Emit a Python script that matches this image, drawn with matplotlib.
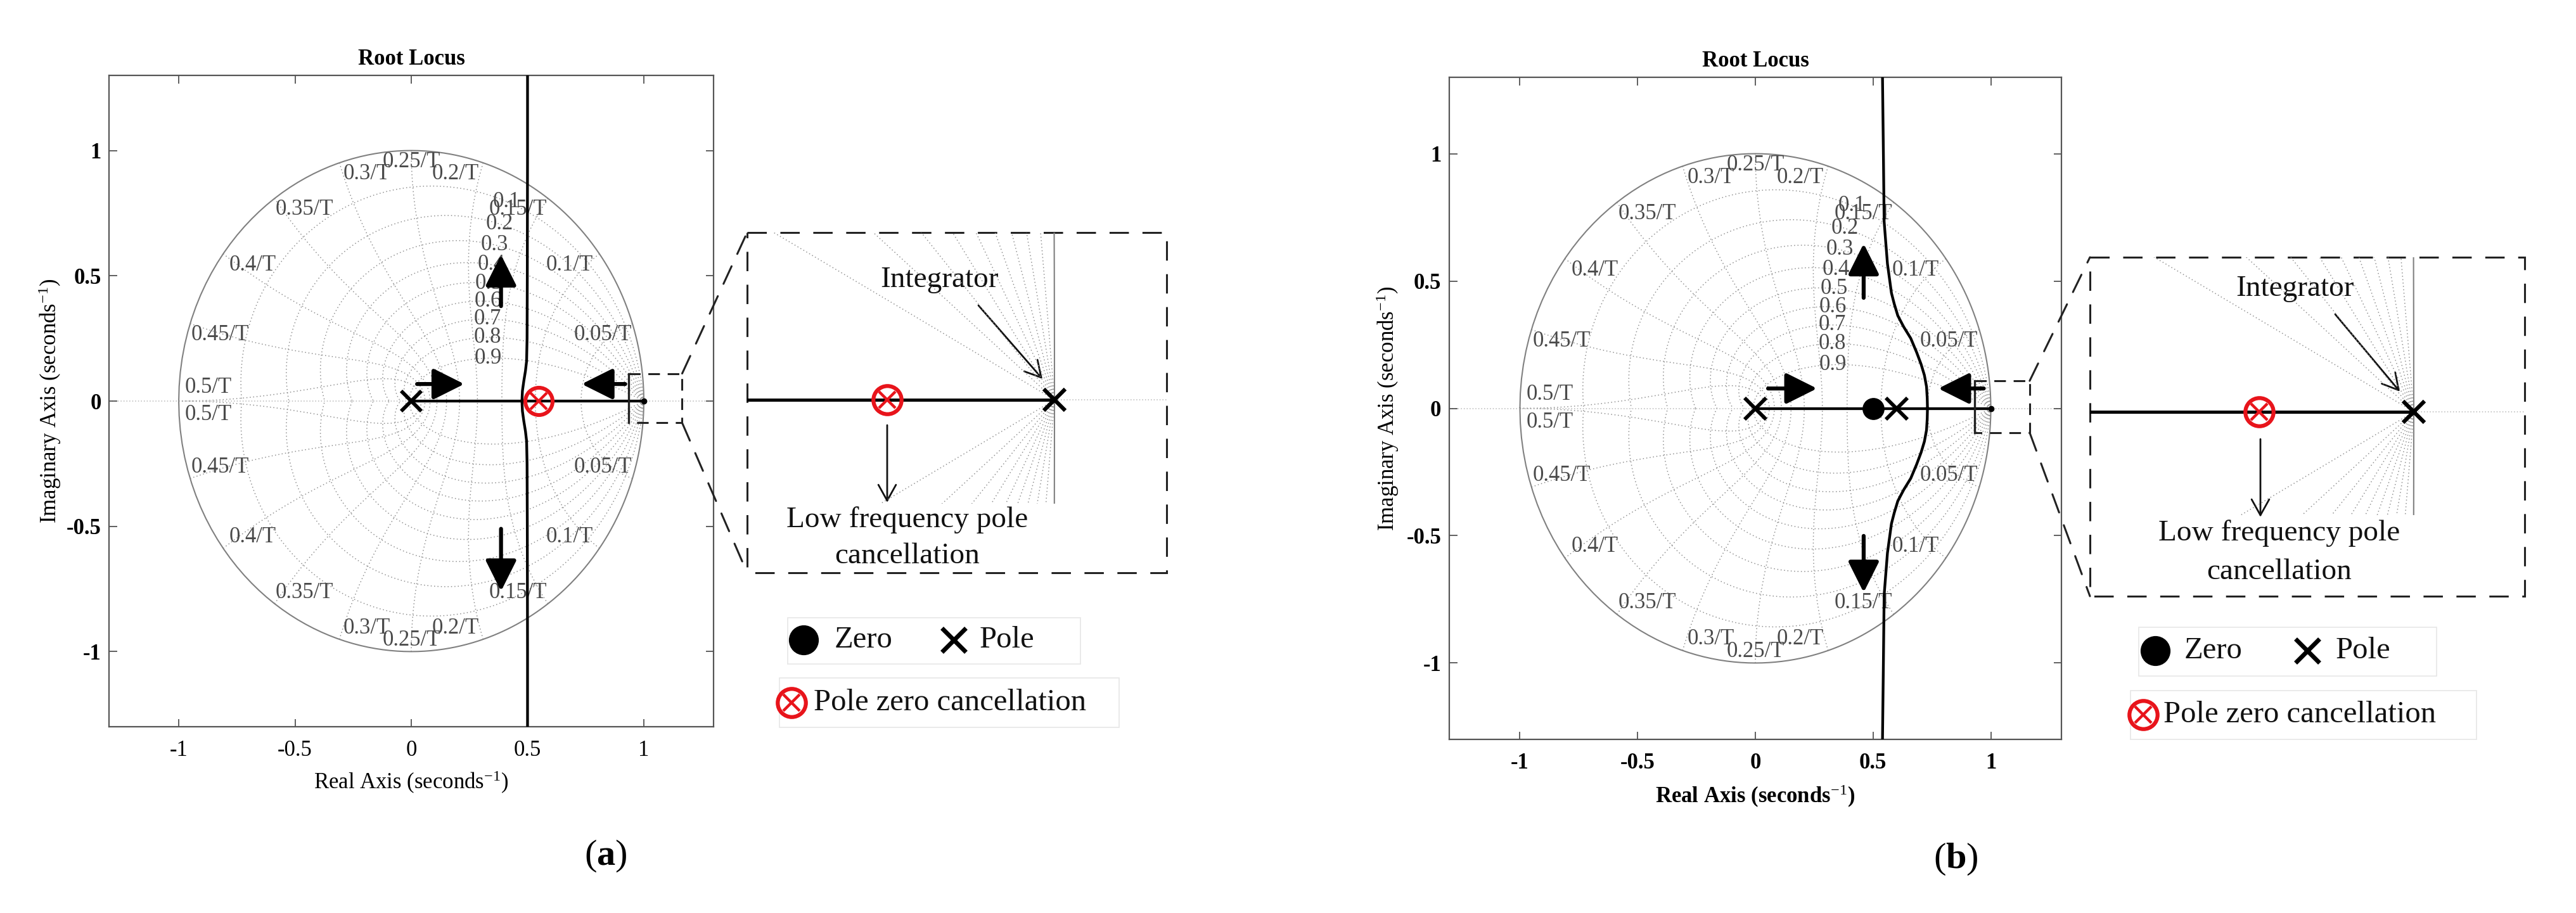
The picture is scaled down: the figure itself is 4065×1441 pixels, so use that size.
import numpy as np
import matplotlib
matplotlib.use("Agg")
import matplotlib.pyplot as plt
from matplotlib.patches import Rectangle, ConnectionPatch

plt.rcParams["font.family"] = ["Liberation Serif", "DejaVu Serif"]
plt.rcParams["mathtext.fontset"] = "custom"
plt.rcParams["mathtext.rm"] = "Liberation Serif"
plt.rcParams["mathtext.it"] = "Liberation Serif:italic"
plt.rcParams["mathtext.bf"] = "Liberation Serif:bold"

W, H = 4065, 1441

# shared axis setup
ticks = [-1, -0.5, 0, 0.5, 1]
tick_labels = ["-1", "-0.5", "0", "0.5", "1"]
limits = [-1.3, 1.3]

# z-plane grid: damping ratios and natural frequency labels
zetas = [0.1, 0.2, 0.3, 0.4, 0.5, 0.6, 0.7, 0.8, 0.9]
wn_labels = ["0.05/T", "0.1/T", "0.15/T", "0.2/T", "0.25/T",
             "0.3/T", "0.35/T", "0.4/T", "0.45/T", "0.5/T"]

# panel (a) root locus
poles_a = [0.0]
cancel_a = [0.548]
integ_a = [1.0]
real_seg_a = [0.0, 1.0]
branch_a_y = [0.0, 0.04, 0.08, 0.12, 0.16, 0.25, 0.5, 1.0, 1.3]
branch_a_x = [0.476, 0.478, 0.484, 0.491, 0.496, 0.498, 0.499, 0.5, 0.5]
zoom_rect_a = [0.935, 1.165, -0.087, 0.11]
arrows_a = [((0.025, 0.068), (0.228, 0.068)),
            ((0.92, 0.068), (0.733, 0.068)),
            ((0.386, 0.379), (0.386, 0.584)),
            ((0.386, -0.51), (0.386, -0.759))]

# panel (b) root locus
poles_b = [0.0, 0.6]
zeros_b = [0.5]
integ_b = [1.0]
real_seg_b = [0.0, 1.0]
branch_b_y = [0.0, 0.04, 0.085, 0.13, 0.173, 0.22, 0.275, 0.32, 0.364,
              0.41, 0.453, 0.568, 0.733, 0.987, 1.3]
branch_b_x = [0.731, 0.73, 0.727, 0.718, 0.704, 0.685, 0.66, 0.63, 0.605,
              0.59, 0.578, 0.561, 0.547, 0.544, 0.54]
zoom_rect_b = [0.93, 1.165, -0.095, 0.108]
arrows_b = [((0.054, 0.078), (0.262, 0.078)),
            ((0.97, 0.078), (0.777, 0.078)),
            ((0.46, 0.434), (0.46, 0.647)),
            ((0.46, -0.501), (0.46, -0.723))]

# zoomed view near z = 1
inset_pole = [1.0]
inset_cancel_a = [0.99456]
inset_cancel_b = [0.99496]

RED = "#e8141b"
fig = plt.figure(figsize=(W / 100, H / 100), dpi=100)


def px_axes(x0, y0, x1, y1, **kw):
    return fig.add_axes([x0 / W, 1 - y1 / H, (x1 - x0) / W, (y1 - y0) / H], **kw)


def zgrid(ax, labels=True):
    gkw = dict(color="#8f8f8f", lw=1.1, ls=(0, (1, 2.5)), zorder=1)
    phi = np.concatenate([[0.0], np.geomspace(1e-6, np.pi, 800)])
    for z in zetas:
        r = np.exp(-z / np.sqrt(1 - z * z) * phi)
        ax.plot(r * np.cos(phi), r * np.sin(phi), **gkw)
        ax.plot(r * np.cos(phi), -r * np.sin(phi), **gkw)
    zz = np.linspace(0, 1, 400)
    for k in range(1, 11):
        wn = k * np.pi / 10
        mag = np.exp(-wn * zz)
        ang = wn * np.sqrt(1 - zz ** 2)
        ax.plot(mag * np.cos(ang), mag * np.sin(ang), **gkw)
        ax.plot(mag * np.cos(ang), -mag * np.sin(ang), **gkw)
    th = np.concatenate([-phi[::-1], phi])
    ax.plot(np.cos(th), np.sin(th), color="#808080", lw=1.5, zorder=1)
    ax.axhline(0, color="#b5b5b5", lw=1.1, ls=(0, (1, 2)), zorder=1)
    if not labels:
        return
    tkw = dict(fontsize=25, color="#4a4a4a", ha="center", va="center", zorder=2)
    for k, lab in enumerate(wn_labels, start=1):
        t = k * np.pi / 10
        x = np.cos(t) - 0.128 * np.clip(3 * np.cos(t), -1, 1)
        y = max(np.sin(t) - 0.045, 0.055)
        ax.text(x, y, lab, **tkw)
        ax.text(x, -y, lab, **tkw)
    for z in zetas:
        p = np.exp(1.1 * (-z + 1j * np.sqrt(1 - z * z)))
        ax.text(p.real, p.imag, f"{z:g}", **tkw)


def otimes(ax, x, y, ms, **kw):
    ax.plot(x, y, "o", ms=ms, mfc="none", mec=RED, mew=ms * 0.14, zorder=6, **kw)
    ax.plot(x, y, "x", ms=ms * 0.6, mec=RED, mew=ms * 0.1, zorder=6, **kw)


def big_arrow(ax, p0, p1):
    ax.annotate("", xy=p1, xytext=p0, zorder=7,
                arrowprops=dict(arrowstyle="-|>,head_length=0.5,head_width=0.25",
                                mutation_scale=60, lw=4.5, color="k",
                                shrinkA=0, shrinkB=0))


def root_axes(box, bold_x, bold_xlabel, ylab_x, xlab_y):
    x0, y0, x1, y1 = box
    ax = px_axes(x0, y0, x1, y1)
    zgrid(ax)
    ax.set_xlim(limits)
    ax.set_ylim(limits)
    ax.set_xticks(ticks)
    ax.set_xticklabels(tick_labels)
    ax.set_yticks(ticks)
    ax.set_yticklabels(tick_labels)
    ax.tick_params(direction="in", length=9, width=1.2, top=True, right=True,
                   labelsize=25, color="#444444")
    ax.tick_params(axis="x", pad=15)
    ax.tick_params(axis="y", pad=9)
    for lbl in ax.get_yticklabels():
        lbl.set_fontweight("bold")
    for lbl in ax.get_xticklabels():
        lbl.set_fontweight("bold" if bold_x else "normal")
    for s in ax.spines.values():
        s.set_color("#555555")
        s.set_linewidth(1.6)
    ax.set_title("Root Locus", fontsize=25, fontweight="bold", pad=12)
    ax.set_xlabel(r"Real Axis (seconds$^{-1}$)", fontsize=25,
                  fontweight="bold" if bold_xlabel else "normal")
    ax.set_ylabel(r"Imaginary Axis (seconds$^{-1}$)", fontsize=25)
    ax.yaxis.set_label_coords(ylab_x, 0.5)
    ax.xaxis.set_label_coords(0.5, xlab_y)
    return ax


def zoom_rect(ax, r):
    x0, x1, y0, y1 = r
    dkw = dict(color="#222222", lw=2.2, ls=(0, (6, 4)), zorder=6)
    ax.plot([x0, x0], [y0, y1], color="#222222", lw=2.4, zorder=6)
    ax.plot([x0, x1, x1, x0], [y1, y1, y0, y0], **dkw)


# overlay in figure pixel coordinates for boxes, notes and legends
ov = fig.add_axes([0, 0, 1, 1], zorder=10)
ov.set_xlim(0, W)
ov.set_ylim(H, 0)
ov.axis("off")
ov.patch.set_alpha(0)

LW = 3.1

# ---------------- panel (a) ----------------
ax_a = root_axes((172, 119, 1126, 1147), False, False, -0.0765, -0.066)
ax_a.plot(real_seg_a, [0, 0], color="k", lw=LW, zorder=4)
ax_a.plot(branch_a_x, branch_a_y, color="k", lw=LW, zorder=4)
ax_a.plot(branch_a_x, [-v for v in branch_a_y], color="k", lw=LW, zorder=4)
ax_a.plot(poles_a, [0] * len(poles_a), "x", ms=23, mec="k", mew=4.2, zorder=6)
ax_a.plot(integ_a, [0], "o", ms=6, color="k", zorder=6)
otimes(ax_a, cancel_a, [0] * len(cancel_a), 31)
for p0, p1 in arrows_a:
    big_arrow(ax_a, p0, p1)
zoom_rect(ax_a, zoom_rect_a)

# ---------------- panel (b) ----------------
ax_b = root_axes((2287, 122, 3253, 1167), True, True, -0.0797, -0.067)
ax_b.plot(real_seg_b, [0, 0], color="k", lw=LW, zorder=4)
ax_b.plot(branch_b_x, branch_b_y, color="k", lw=LW, zorder=4)
ax_b.plot(branch_b_x, [-v for v in branch_b_y], color="k", lw=LW, zorder=4)
ax_b.plot(poles_b, [0] * len(poles_b), "x", ms=24, mec="k", mew=4.2, zorder=6)
ax_b.plot(zeros_b, [0] * len(zeros_b), "o", ms=24, color="k", zorder=6)
ax_b.plot(integ_b, [0], "o", ms=6, color="k", zorder=6)
for p0, p1 in arrows_b:
    big_arrow(ax_b, p0, p1)
zoom_rect(ax_b, zoom_rect_b)


# ---------------- zoomed insets ----------------
def inset(box, grid_bottom, cancel, txt_int, arr_int, arr_low, txt_low, rect, ax_main):
    x0, y0, x1, y1 = box
    pole_px = arr_int[2]
    ia = px_axes(x0, y0, x1, grid_bottom, zorder=11)
    ia.axis("off")
    ia.patch.set_alpha(0)
    zgrid(ia, labels=False)
    kx, ky = 48500.0, 60000.0
    ia.set_xlim(1 - (pole_px[0] - x0) / kx, 1 + (x1 - pole_px[0]) / kx)
    ia.set_ylim(-(grid_bottom - pole_px[1]) / ky, (pole_px[1] - y0) / ky)
    ia.plot([ia.get_xlim()[0], inset_pole[0]], [0, 0], color="k", lw=3.6, zorder=4)
    ia.plot(inset_pole, [0], "x", ms=24, mec="k", mew=4.5, zorder=6)
    otimes(ia, cancel, [0], 32)

    dkw = dict(color="#222222", lw=2.2, ls=(0, (10, 7)))
    ov.add_patch(Rectangle((x0, y0), x1 - x0, y1 - y0, fill=False, **dkw))
    for ya, yb in ((rect[3], y0), (rect[2], y1)):
        con = ConnectionPatch(xyA=(rect[1], ya), coordsA=ax_main.transData,
                              xyB=(x0, yb), coordsB=ov.transData, **dkw)
        fig.add_artist(con)

    tkw = dict(fontsize=34, ha="center", va="center", color="#111111")
    ov.text(txt_int[0], txt_int[1], "Integrator", **tkw)
    akw = dict(arrowstyle="->,head_length=0.45,head_width=0.25", mutation_scale=40,
               lw=2.0, color="#111111", shrinkA=0, shrinkB=0)
    ov.annotate("", xy=arr_int[1], xytext=arr_int[0], arrowprops=akw)
    ov.annotate("", xy=arr_low[1], xytext=arr_low[0], arrowprops=akw)
    ov.text(txt_low[0], txt_low[1], "Low frequency pole", **tkw)
    ov.text(txt_low[0], txt_low[2], "cancellation", **tkw)


inset((1179, 367, 1841, 904), 795, inset_cancel_a, (1483, 442),
      ((1544, 482), (1645, 598), (1664, 631)), ((1400, 671), (1400, 793)),
      (1432, 821, 878), zoom_rect_a, ax_a)
inset((3298, 406, 3984, 941), 813, inset_cancel_b, (3622, 456),
      ((3685, 496), (3787, 618), (3809, 650)), ((3567, 693), (3567, 816)),
      (3597, 842, 903), zoom_rect_b, ax_b)


# ---------------- legends ----------------
def legend(b1, b2, dot, cross, ot, zero_x, pole_x, pz_x):
    ekw = dict(fill=False, ec="#e6e6e6", lw=1.2)
    ov.add_patch(Rectangle(b1[:2], b1[2], b1[3], **ekw))
    ov.add_patch(Rectangle(b2[:2], b2[2], b2[3], **ekw))
    ov.plot(*dot, "o", ms=33, color="k")
    ov.plot(*cross, "x", ms=28, mec="k", mew=5)
    otimes(ov, [ot[0]], [ot[1]], 32)
    lkw = dict(fontsize=35, ha="left", va="center", color="#111111")
    ov.text(zero_x, dot[1], "Zero", **lkw)
    ov.text(pole_x, cross[1], "Pole", **lkw)
    ov.text(pz_x, ot[1], "Pole zero cancellation", **lkw)


legend((1243, 975, 462, 73), (1230, 1070, 536, 78), (1268, 1010), (1505, 1010),
       (1249, 1109), 1317, 1546, 1284)
legend((3375, 990, 470, 77), (3362, 1090, 546, 77), (3401, 1027), (3641, 1027),
       (3382, 1128), 3447, 3686, 3414)

# captions
ov.text(956, 1351, r"($\mathbf{a}$)", fontsize=42, ha="center", va="center")
ov.text(3086, 1356, r"($\mathbf{b}$)", fontsize=42, ha="center", va="center")

fig.savefig("out.png", dpi=100, facecolor="white")
